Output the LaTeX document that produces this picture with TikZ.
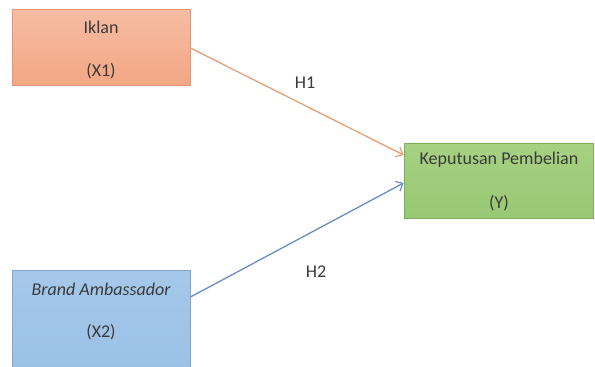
\documentclass[tikz,border=0pt]{standalone}
\usepackage{fontspec}
\setmainfont{Carlito}
\usetikzlibrary{arrows.meta}
\definecolor{txt}{HTML}{3A3A3A}
\definecolor{orfillA}{HTML}{F6BCA3}
\definecolor{orfillB}{HTML}{F3A784}
\definecolor{ordraw}{HTML}{E3977A}
\definecolor{grfillA}{HTML}{A6D182}
\definecolor{grfillB}{HTML}{98C873}
\definecolor{grdraw}{HTML}{7DAE5C}
\definecolor{blfillA}{HTML}{A5C8EA}
\definecolor{blfillB}{HTML}{97BFE5}
\definecolor{bldraw}{HTML}{7FA6CF}
\definecolor{orline}{HTML}{E5A175}
\definecolor{blline}{HTML}{6C8CC6}
\tikzset{
  boxx/.style={draw=#1draw, line width=0.9pt, top color=#1fillA, bottom color=#1fillB, inner sep=0pt},
  lbl/.style={text=txt, font=\fontsize{18}{21}\selectfont, inner sep=0pt},
  conn/.style={line width=1.3pt, -{Straight Barb[length=6pt,width=11pt,line width=1.2pt]}}
}
\begin{document}
\begin{tikzpicture}[x=1pt,y=-1pt]
\useasboundingbox (0,0) rectangle (595,367);
\fill[white] (0,0) rectangle (595,367);
\begin{scope}
\clip (0,0) rectangle (595,367);
\node[boxx=or, minimum width=178pt, minimum height=76pt] (x1) at (101,47) {};
\node[lbl] (x1a) at (101,27) {Iklan};
\node[lbl] (x1b) at (101,71) {(X1)};
\node[boxx=gr, minimum width=189pt, minimum height=75pt] (y) at (498.5,180.5) {};
\node[lbl] (ya) at (499,160) {Keputusan Pembelian};
\node[lbl] (yb) at (499,203) {(Y)};
\node[boxx=bl, minimum width=178pt, minimum height=130pt, anchor=north] (x2) at (101,270) {};
\node[lbl] (x2a) at (101,289) {\itshape Brand Ambassador};
\node[lbl] (x2b) at (101,332) {(X2)};
\coordinate (a1s) at ([yshift=-1pt]x1.east);
\coordinate (a1e) at ([yshift=25.5pt]y.west);
\coordinate (a2s) at ([yshift=-27pt]x2.north east);
\coordinate (a2e) at ([yshift=-2.5pt]y.west);
\draw[conn, draw=orline] (a1s) -- (a1e);
\draw[conn, draw=blline] (a2s) -- (a2e);
\node[lbl] (h1) at (305,83) {H1};
\node[lbl] (h2) at (316,272) {H2};
\end{scope}
\end{tikzpicture}
\end{document}
